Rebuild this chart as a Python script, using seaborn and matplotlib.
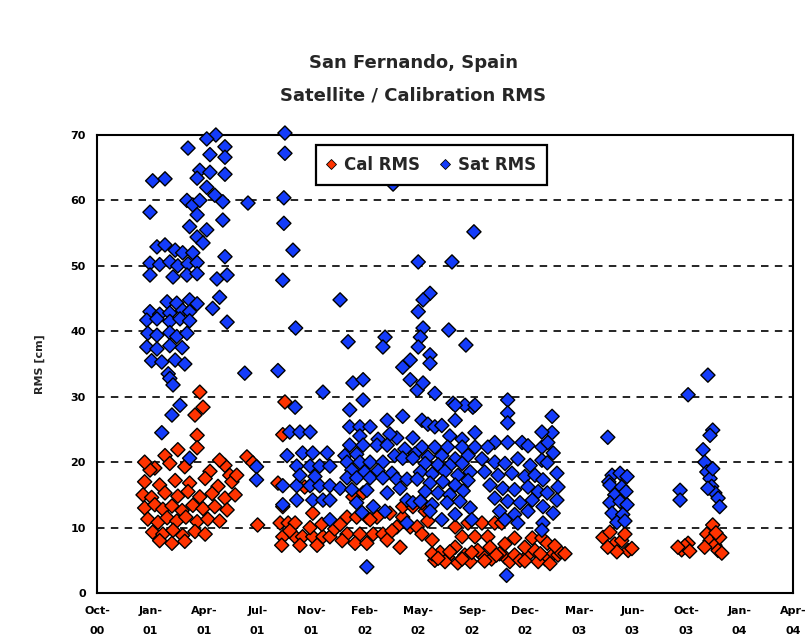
import matplotlib
matplotlib.use("Agg")
import matplotlib.pyplot as plt
import matplotlib.dates as mdates
from matplotlib.lines import Line2D
import pandas as pd
import seaborn as sns

# ---------------------------------------------------------------------------
# Satellite RMS per pass (date, RMS in cm), grouped by tracking campaign
# ---------------------------------------------------------------------------
sat_2001_spring = [
    ("2001-05-11", 70.0), ("2001-04-24", 69.4), ("2001-03-20", 68.0), ("2001-05-28", 68.2),
    ("2001-04-30", 67.0), ("2001-05-28", 66.6), ("2001-04-11", 64.6), ("2001-01-13", 63.0),
    ("2001-02-05", 63.3), ("2001-04-30", 64.3), ("2001-05-28", 64.0), ("2001-04-06", 63.4),
    ("2001-04-24", 62.0), ("2001-05-09", 60.8), ("2001-05-24", 59.8), ("2001-07-10", 59.6),
    ("2001-01-08", 58.2), ("2001-03-18", 60.0), ("2001-03-29", 59.3), ("2001-04-11", 60.0),
    ("2001-04-06", 57.8), ("2001-05-24", 57.0), ("2001-03-23", 56.0), ("2001-04-24", 55.5),
    ("2001-04-06", 54.4), ("2001-04-17", 53.5), ("2001-01-21", 52.9), ("2001-02-05", 53.2),
    ("2001-02-24", 52.4), ("2001-03-10", 52.0), ("2001-03-29", 52.0), ("2001-05-28", 51.4),
    ("2001-01-08", 50.4), ("2001-01-26", 50.2), ("2001-02-14", 50.6), ("2001-03-01", 50.0),
    ("2001-03-20", 50.3), ("2001-04-06", 50.5), ("2001-01-08", 48.6), ("2001-02-20", 48.3),
    ("2001-03-18", 48.6), ("2001-04-06", 48.8), ("2001-05-13", 48.0), ("2001-06-01", 48.6),
    ("2001-02-09", 44.5), ("2001-02-27", 44.3), ("2001-03-23", 44.8), ("2001-04-06", 44.2),
    ("2001-05-18", 45.2), ("2001-05-05", 43.5), ("2001-01-08", 43.0), ("2001-01-26", 42.6),
    ("2001-02-14", 42.8), ("2001-03-10", 43.2), ("2001-03-23", 43.0), ("2001-01-02", 41.7),
    ("2001-01-21", 41.9), ("2001-02-14", 41.5), ("2001-03-05", 41.9), ("2001-03-23", 41.6),
    ("2001-06-01", 41.4), ("2001-01-04", 39.7), ("2001-01-21", 39.4), ("2001-02-14", 39.8),
    ("2001-02-27", 39.2), ("2001-03-18", 39.7), ("2001-01-02", 37.6), ("2001-01-21", 37.3),
    ("2001-02-14", 37.8), ("2001-03-09", 37.5), ("2001-01-11", 35.5), ("2001-01-30", 35.3),
    ("2001-02-24", 35.6), ("2001-03-14", 35.0), ("2001-02-11", 33.5), ("2001-02-14", 32.8),
    ("2001-02-20", 31.8), ("2001-07-04", 33.6), ("2001-03-05", 28.7), ("2001-02-18", 27.2),
    ("2001-01-30", 24.5), ("2001-03-23", 20.6), ("2001-07-26", 19.3), ("2001-07-26", 17.3),
]

sat_2001_autumn = [
    ("2001-09-17", 70.3), ("2001-09-17", 67.2), ("2001-09-15", 60.4), ("2001-09-15", 56.5),
    ("2001-10-02", 52.4), ("2001-09-13", 47.8), ("2001-10-07", 40.5), ("2001-09-04", 34.0),
    ("2001-11-27", 30.7), ("2001-10-06", 28.4), ("2001-09-26", 24.6), ("2001-10-15", 24.6),
    ("2001-11-03", 24.6), ("2001-09-21", 21.0), ("2001-10-20", 21.4), ("2001-11-08", 21.4),
    ("2001-12-05", 21.4), ("2001-10-09", 19.4), ("2001-11-03", 19.4), ("2001-11-21", 19.4),
    ("2001-12-10", 19.4), ("2001-09-13", 16.4), ("2001-10-09", 16.4), ("2001-11-03", 16.4),
    ("2001-11-21", 16.4), ("2001-12-10", 16.4), ("2001-10-09", 14.2), ("2001-11-08", 14.2),
    ("2001-11-27", 14.2), ("2001-12-10", 14.2), ("2001-12-10", 11.2), ("2001-09-13", 13.5),
    ("2001-10-15", 18.0), ("2001-11-12", 17.8),
]

sat_2002 = [
    ("2001-12-29", 44.8), ("2002-01-13", 38.4), ("2002-03-23", 39.1), ("2002-03-19", 37.6),
    ("2002-05-24", 50.6), ("2002-07-26", 50.6), ("2002-09-05", 55.2), ("2002-06-15", 45.8),
    ("2002-06-02", 44.8), ("2002-05-24", 43.0), ("2002-06-02", 40.5), ("2002-05-28", 39.1),
    ("2002-05-24", 37.6), ("2002-07-20", 40.2), ("2002-08-21", 37.9), ("2002-06-15", 36.4),
    ("2002-06-15", 35.1), ("2002-01-22", 32.1), ("2002-02-10", 32.6), ("2002-02-10", 29.5),
    ("2002-04-25", 34.5), ("2002-05-09", 35.6), ("2002-05-09", 32.6), ("2002-05-22", 31.0),
    ("2002-06-02", 32.1), ("2002-03-27", 26.4), ("2002-04-25", 27.0), ("2002-01-16", 28.0),
    ("2002-07-28", 29.0), ("2002-09-03", 28.4), ("2002-08-19", 28.7), ("2002-06-24", 30.5),
    ("2002-08-01", 26.4), ("2002-02-17", 4.0), ("2002-04-07", 62.5), ("2002-08-01", 28.7),
    ("2002-09-07", 28.7),
    ("2002-01-16", 25.4), ("2002-02-04", 25.4), ("2002-02-23", 25.4), ("2002-05-31", 26.4),
    ("2002-06-11", 25.8), ("2002-06-24", 25.4), ("2002-07-07", 25.6), ("2002-09-07", 24.5),
    ("2002-04-14", 23.7), ("2002-05-14", 23.7), ("2002-02-04", 24.0), ("2002-03-10", 23.5),
    ("2002-04-01", 24.3), ("2002-07-22", 24.0), ("2002-08-14", 23.5),
    ("2002-01-16", 22.6), ("2002-02-10", 22.6), ("2002-03-08", 22.6), ("2002-03-27", 22.6),
    ("2002-05-31", 22.3), ("2002-06-24", 22.3), ("2002-07-18", 22.3), ("2002-08-14", 22.3),
    ("2002-09-07", 22.3), ("2002-04-29", 22.0),
    ("2002-01-07", 21.0), ("2002-01-29", 21.2), ("2002-04-10", 21.0), ("2002-05-18", 21.3),
    ("2002-06-11", 20.8), ("2002-07-07", 21.0), ("2002-08-01", 20.5), ("2002-08-25", 21.0),
    ("2002-01-11", 20.0), ("2002-02-04", 20.0), ("2002-02-23", 20.0), ("2002-03-19", 20.0),
    ("2002-04-25", 20.6), ("2002-05-14", 20.6), ("2002-06-06", 19.8), ("2002-06-30", 19.6),
    ("2002-07-22", 19.5), ("2002-08-14", 19.8),
    ("2002-01-20", 18.8), ("2002-02-13", 18.5), ("2002-03-10", 18.7), ("2002-04-05", 18.3),
    ("2002-05-28", 18.5), ("2002-06-19", 18.2), ("2002-07-13", 18.6), ("2002-08-06", 18.0),
    ("2002-08-29", 18.5),
    ("2002-01-11", 17.6), ("2002-01-29", 17.6), ("2002-02-23", 17.6), ("2002-03-19", 17.6),
    ("2002-04-14", 17.4), ("2002-05-03", 17.4), ("2002-05-22", 17.4), ("2002-06-15", 16.8),
    ("2002-07-09", 17.0), ("2002-08-01", 16.5), ("2002-08-25", 17.2),
    ("2001-12-29", 16.0), ("2002-01-20", 15.8), ("2002-02-17", 15.7), ("2002-03-27", 15.3),
    ("2002-04-20", 16.0), ("2002-06-06", 15.5), ("2002-06-30", 15.3), ("2002-07-22", 15.0),
    ("2002-08-16", 15.6),
    ("2002-01-29", 13.8), ("2002-03-01", 13.2), ("2002-05-03", 14.2), ("2002-05-14", 13.8),
    ("2002-05-28", 14.0), ("2002-06-19", 13.5), ("2002-07-17", 13.8), ("2002-08-10", 14.0),
    ("2002-08-29", 13.0),
    ("2002-05-03", 10.7), ("2002-06-15", 12.5), ("2002-07-07", 11.2), ("2002-08-01", 12.0),
    ("2002-09-01", 11.2), ("2002-03-23", 12.5), ("2002-02-08", 12.3),
]

sat_2002_winter = [
    ("2002-11-07", 29.5), ("2002-11-07", 27.5), ("2002-11-07", 26.0), ("2003-01-29", 27.0),
    ("2003-01-29", 24.5), ("2003-01-10", 24.6), ("2002-11-05", 2.7),
    ("2002-10-14", 23.0), ("2002-11-07", 23.0), ("2002-12-04", 23.0), ("2002-12-15", 22.5),
    ("2003-01-10", 22.3), ("2003-01-10", 20.3), ("2003-01-21", 23.0), ("2002-10-01", 22.3),
    ("2002-09-20", 20.5), ("2002-10-14", 20.0), ("2002-11-02", 19.8), ("2002-11-26", 20.5),
    ("2002-12-19", 19.5), ("2003-01-31", 21.4), ("2003-01-20", 19.9), ("2002-09-25", 18.5),
    ("2002-10-20", 18.0), ("2002-11-15", 18.3), ("2002-12-09", 17.8), ("2002-12-28", 18.0),
    ("2003-02-07", 18.3), ("2003-01-12", 17.3), ("2002-10-05", 16.5), ("2002-10-29", 16.0),
    ("2002-11-20", 15.8), ("2002-12-15", 16.2), ("2003-01-03", 15.5), ("2003-02-09", 16.2),
    ("2003-01-20", 15.3), ("2002-10-14", 14.5), ("2002-11-07", 14.0), ("2002-11-30", 13.8),
    ("2002-12-23", 14.2), ("2003-02-07", 14.2), ("2003-01-12", 13.2), ("2002-10-23", 12.5),
    ("2002-11-20", 12.0), ("2002-12-15", 12.5), ("2003-01-31", 12.2), ("2002-11-02", 11.2),
    ("2002-11-26", 10.7), ("2003-01-12", 10.7), ("2003-01-10", 9.6),
]

sat_2003_summer = [
    ("2003-05-13", 23.8), ("2003-05-21", 18.0), ("2003-06-05", 18.3), ("2003-06-18", 17.8),
    ("2003-05-15", 17.0), ("2003-05-17", 16.5), ("2003-06-08", 16.2), ("2003-05-26", 15.0),
    ("2003-06-16", 15.5), ("2003-05-17", 13.8), ("2003-06-05", 14.0), ("2003-06-18", 13.5),
    ("2003-05-21", 12.2), ("2003-06-10", 12.0), ("2003-05-30", 10.8), ("2003-06-14", 11.0),
]

sat_2003_autumn = [
    ("2003-10-10", 30.3), ("2003-11-16", 33.3), ("2003-11-25", 24.9), ("2003-11-20", 24.1),
    ("2003-11-07", 21.9), ("2003-09-25", 15.7), ("2003-09-25", 14.2), ("2003-11-10", 20.0),
    ("2003-11-14", 18.5), ("2003-11-20", 17.5), ("2003-11-23", 16.3), ("2003-11-29", 15.3),
    ("2003-12-05", 14.5), ("2003-12-08", 13.2), ("2003-11-16", 16.0), ("2003-11-25", 19.0),
]

# ---------------------------------------------------------------------------
# Calibration RMS per pass (date, RMS in cm)
# ---------------------------------------------------------------------------
cal_2001_spring = [
    ("2001-04-11", 30.7), ("2001-04-17", 28.4), ("2001-04-02", 27.2), ("2001-04-06", 24.1),
    ("2001-03-01", 21.9), ("2001-04-06", 22.2), ("2001-01-17", 19.1), ("2001-07-08", 20.8),
    ("2001-07-19", 19.9), ("2001-07-28", 10.4), ("2001-02-18", 7.6),
    ("2001-01-08", 18.8), ("2001-03-14", 19.3), ("2001-04-30", 18.6), ("2001-05-28", 19.5),
    ("2001-06-06", 18.0), ("2000-12-29", 17.0), ("2001-01-26", 16.5), ("2001-02-24", 17.2),
    ("2001-03-23", 16.8), ("2001-04-21", 17.5), ("2001-05-15", 16.3), ("2001-06-10", 17.0),
    ("2000-12-26", 15.0), ("2001-01-11", 14.6), ("2001-02-05", 15.3), ("2001-03-01", 14.8),
    ("2001-03-20", 15.5), ("2001-04-11", 14.7), ("2001-05-04", 15.2), ("2001-05-28", 14.5),
    ("2001-06-16", 15.0), ("2000-12-29", 13.0), ("2001-01-17", 13.5), ("2001-02-01", 12.8),
    ("2001-02-18", 13.3), ("2001-03-09", 12.6), ("2001-03-29", 13.4), ("2001-04-17", 12.9),
    ("2001-05-09", 13.2), ("2001-06-01", 12.7), ("2001-01-04", 11.3), ("2001-01-23", 10.8),
    ("2001-02-09", 11.5), ("2001-02-27", 11.0), ("2001-03-16", 11.6), ("2001-04-06", 10.9),
    ("2001-04-26", 11.3), ("2001-05-18", 11.0), ("2001-01-13", 9.3), ("2001-02-01", 9.0),
    ("2001-02-20", 9.6), ("2001-03-10", 8.8), ("2001-04-02", 9.4), ("2001-04-21", 9.0),
    ("2001-01-26", 8.0), ("2001-03-14", 7.9), ("2000-12-29", 20.0), ("2001-02-05", 21.0),
    ("2001-02-14", 19.8), ("2001-05-18", 20.3), ("2001-06-19", 18.0),
]

cal_2001_autumn = [
    ("2001-09-17", 29.2), ("2001-09-13", 24.2), ("2001-09-04", 16.8), ("2001-10-24", 16.2),
    ("2001-09-13", 13.2), ("2001-09-08", 10.7), ("2001-09-23", 10.7), ("2001-10-06", 10.7),
    ("2001-09-13", 8.6), ("2001-10-06", 8.6), ("2001-10-20", 8.6), ("2001-11-08", 8.6),
    ("2001-11-27", 8.6), ("2001-12-10", 8.6), ("2001-09-11", 7.3), ("2001-10-15", 7.3),
    ("2001-11-16", 7.3), ("2001-11-08", 12.2), ("2001-11-03", 10.0), ("2001-11-25", 10.5),
    ("2001-09-26", 9.5), ("2001-12-19", 9.8),
]

cal_2002 = [
    ("2002-01-11", 11.6), ("2002-01-29", 11.6), ("2002-02-17", 11.6), ("2002-03-08", 11.6),
    ("2002-01-22", 14.7), ("2002-02-10", 15.3), ("2002-01-11", 9.0), ("2002-02-04", 9.0),
    ("2002-03-01", 9.0), ("2002-03-19", 9.0), ("2002-02-23", 11.2), ("2002-04-01", 12.2),
    ("2002-04-25", 11.6), ("2002-04-14", 10.1), ("2002-05-09", 10.1), ("2002-05-22", 10.1),
    ("2002-03-27", 8.1), ("2002-04-20", 7.0), ("2002-01-26", 7.6), ("2002-02-17", 7.6),
    ("2002-04-25", 13.2), ("2002-05-14", 13.2), ("2001-12-29", 10.5), ("2002-01-02", 8.0),
    ("2002-04-05", 9.5), ("2002-06-06", 12.5), ("2002-05-31", 13.8), ("2002-06-11", 11.0),
    ("2002-05-31", 9.0), ("2002-06-19", 8.1), ("2002-08-01", 10.1), ("2002-08-25", 10.7),
    ("2002-09-20", 10.7), ("2002-10-14", 10.7), ("2002-10-27", 10.7), ("2002-08-14", 8.6),
    ("2002-09-07", 8.6), ("2002-10-01", 8.6), ("2002-08-19", 5.8), ("2002-09-20", 5.8),
    ("2002-10-08", 5.2), ("2002-11-02", 5.5), ("2002-07-18", 5.5), ("2002-08-01", 7.0),
    ("2002-07-04", 6.2), ("2002-06-24", 5.0), ("2002-07-13", 4.8), ("2002-08-06", 4.6),
    ("2002-08-29", 4.8), ("2002-09-12", 6.5), ("2002-10-05", 7.0), ("2002-10-23", 6.0),
    ("2002-11-11", 4.8), ("2002-06-19", 6.0), ("2002-06-30", 5.3), ("2002-07-22", 6.3),
    ("2002-08-14", 5.2), ("2002-09-01", 6.2), ("2002-09-25", 4.9), ("2002-10-17", 5.8),
]

cal_2002_winter = [
    ("2002-11-20", 8.4), ("2002-12-23", 8.4), ("2003-01-10", 8.4), ("2002-11-20", 5.8),
    ("2002-12-15", 5.8), ("2003-01-29", 5.8), ("2003-02-09", 5.8), ("2002-12-09", 7.0),
    ("2003-01-20", 7.6), ("2003-02-13", 6.3), ("2002-11-30", 5.0), ("2002-12-28", 6.5),
    ("2003-01-16", 5.2), ("2003-02-03", 7.2), ("2003-02-22", 6.0), ("2002-11-02", 7.5),
    ("2003-01-03", 4.8), ("2003-01-25", 4.5), ("2002-12-09", 4.9), ("2003-01-07", 6.0),
]

cal_2003_summer = [
    ("2003-05-04", 8.5), ("2003-05-17", 9.3), ("2003-05-26", 7.5), ("2003-06-08", 8.0),
    ("2003-06-20", 6.5), ("2003-06-14", 9.0), ("2003-05-30", 6.3), ("2003-05-13", 7.0),
    ("2003-06-27", 6.8),
]

cal_2003_autumn = [
    ("2003-09-28", 6.6), ("2003-10-10", 7.6), ("2003-10-04", 7.2), ("2003-10-13", 6.4),
    ("2003-09-21", 7.0), ("2003-11-25", 10.4), ("2003-11-14", 9.0), ("2003-11-20", 8.0),
    ("2003-11-29", 7.3), ("2003-12-05", 6.5), ("2003-12-12", 6.1), ("2003-11-10", 7.0),
    ("2003-12-08", 8.5), ("2003-12-01", 9.2),
]

series_names = ["Cal RMS", "Sat RMS"]
series_colors = {"Cal RMS": "#FF3300", "Sat RMS": "#143CFA"}
y_ticks = [0, 10, 20, 30, 40, 50, 60, 70]
axis_start = "2000-10-01"
tick_step_days = 100
n_ticks = 14


def to_frame(blocks, name):
    rows = [p for block in blocks for p in block]
    frame = pd.DataFrame(rows, columns=["date", "rms"])
    frame["series"] = name
    return frame


cal = to_frame([cal_2001_spring, cal_2001_autumn, cal_2002, cal_2002_winter,
                cal_2003_summer, cal_2003_autumn], "Cal RMS")
sat = to_frame([sat_2001_spring, sat_2001_autumn, sat_2002, sat_2002_winter,
                sat_2003_summer, sat_2003_autumn], "Sat RMS")
df = pd.concat([cal, sat], ignore_index=True)
df["date"] = pd.to_datetime(df["date"])

sns.set_style("white")
plt.rcParams["font.family"] = ["DejaVu Sans"]
plt.rcParams["font.weight"] = "bold"

fig = plt.figure(figsize=(8.07, 6.38), dpi=100)
fig.patch.set_facecolor("white")
ax = fig.add_axes([0.1202, 0.0705, 0.8625, 0.7179])

sns.scatterplot(
    data=df, x="date", y="rms", hue="series", hue_order=series_names,
    palette=series_colors, marker="D", s=52, edgecolor="black", linewidth=1.0,
    legend=False, ax=ax, clip_on=False, zorder=3,
)

# axis ranges and ticks
t0 = pd.Timestamp(axis_start)
x_ticks = [t0 + pd.Timedelta(days=tick_step_days * k) for k in range(n_ticks)]
ax.set_xlim(mdates.date2num(x_ticks[0]), mdates.date2num(x_ticks[-1]))
ax.set_ylim(y_ticks[0], y_ticks[-1])
ax.set_xticks(mdates.date2num(x_ticks))
ax.set_xticklabels([t.strftime("%b-\n%y") for t in x_ticks], fontsize=8,
                   fontweight="bold", linespacing=2.3)
ax.set_yticks(y_ticks)
ax.set_yticklabels([str(v) for v in y_ticks], fontsize=8, fontweight="bold")
ax.tick_params(axis="y", direction="inout", length=8, width=1.2, pad=4, colors="black")
ax.tick_params(axis="x", direction="out", length=4, width=1.2, pad=5, colors="black")
ax.set_xlabel("")
ax.set_ylabel("RMS [cm]", fontsize=8, fontweight="bold", labelpad=18)

# dashed horizontal gridlines
ax.set_axisbelow(True)
ax.yaxis.grid(True, color="black", linewidth=1.2, linestyle=(0, (4.5, 3.8)))
ax.xaxis.grid(False)
for spine in ax.spines.values():
    spine.set_color("black")
    spine.set_linewidth(1.5)
    spine.set_visible(True)

handles = [
    Line2D([], [], marker="D", linestyle="none", markersize=5,
           markerfacecolor=series_colors[n], markeredgecolor="black",
           markeredgewidth=0.6, label=n)
    for n in series_names
]
leg = ax.legend(handles=handles, ncol=2, loc="upper left",
                bbox_to_anchor=(0.3147, 0.978), borderaxespad=0,
                frameon=True, fancybox=False, edgecolor="black", framealpha=1,
                prop={"weight": "bold", "size": 12}, handletextpad=0.55,
                columnspacing=1.3, handlelength=0.45, borderpad=0.65)
leg.get_frame().set_linewidth(1.6)
leg.set_zorder(10)

fig.text(0.512, 1 - 63 / 638, "San Fernando, Spain", ha="center", va="center",
         fontsize=13, fontweight="bold")
fig.text(0.512, 1 - 95 / 638, "Satellite / Calibration RMS", ha="center", va="center",
         fontsize=13, fontweight="bold")

fig.savefig("out.png", dpi=100, facecolor="white")
